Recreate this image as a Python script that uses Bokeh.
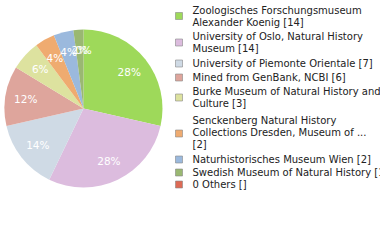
import math
from bokeh.plotting import figure
from bokeh.models import Range1d, ColumnDataSource
from bokeh.core.properties import value
from bokeh.embed import file_html
from bokeh.resources import INLINE

names = ["Zoologisches Forschungsmuseum Alexander Koenig",
         "University of Oslo, Natural History Museum",
         "University of Piemonte Orientale",
         "Mined from GenBank, NCBI",
         "Burke Museum of Natural History and Culture",
         "Senckenberg Natural History Collections Dresden, Museum of ...",
         "Naturhistorisches Museum Wien",
         "Swedish Museum of Natural History",
         "0 Others"]
counts = [14, 14, 7, 6, 3, 2, 2, 1, 0]
legend_lines = [
    ["Zoologisches Forschungsmuseum", "Alexander Koenig [14]"],
    ["University of Oslo, Natural History", "Museum [14]"],
    ["University of Piemonte Orientale [7]"],
    ["Mined from GenBank, NCBI [6]"],
    ["Burke Museum of Natural History and", "Culture [3]"],
    ["Senckenberg Natural History", "Collections Dresden, Museum of ...", "[2]"],
    ["Naturhistorisches Museum Wien [2]"],
    ["Swedish Museum of Natural History [1]"],
    ["0 Others []"],
]
colors = ["#9ed95a", "#dcbcde", "#cfdae5", "#dea59c", "#dde29f",
          "#efab70", "#9bb9dd", "#9ab872", "#dd6a55"]

W, H = 380, 240
p = figure(width=W, height=H, output_backend="svg", toolbar_location=None,
           x_range=Range1d(0, W), y_range=Range1d(0, H), min_border=0)
p.axis.visible = False
p.grid.visible = False
p.outline_line_color = None
p.background_fill_color = "white"
p.border_fill_color = "white"

cx, cy, R = 83, H - 108, 79
total = sum(counts)
cum = 0.0
starts, ends, wcols, lx, ly, labels = [], [], [], [], [], []
for c, col in zip(counts, colors):
    a0 = cum / total
    cum += c
    a1 = cum / total
    if c > 0:
        starts.append(math.pi / 2 - a0 * 2 * math.pi)
        ends.append(math.pi / 2 - a1 * 2 * math.pi)
        wcols.append(col)
    mid = (a0 + a1) / 2 * 2 * math.pi
    lx.append(cx + 0.74 * R * math.sin(mid))
    ly.append(cy + 0.74 * R * math.cos(mid))
    labels.append("%d%%" % math.floor(100 * c / total))

src = ColumnDataSource(dict(s=starts, e=ends, color=wcols))
p.wedge(x=cx, y=cy, radius=R, start_angle="s", end_angle="e",
        direction="clock", fill_color="color", line_color=None, source=src)
p.text(x=lx, y=ly, text=labels, text_color="white", text_font=value("DejaVu Sans"),
       text_font_size="10.5px", text_align="center", text_baseline="middle")

# legend
sq_x, tx = 178.5, 192
item_tops = [9.5, 36, 63, 77, 91, 120, 159, 172, 184]
sq_y, txs, tys, txt = [], [], [], []
for top, lines in zip(item_tops, legend_lines):
    n = len(lines)
    for i, ln in enumerate(lines):
        txs.append(tx)
        tys.append(H - (top + 12 * i))
        txt.append(ln)
    sq_y.append(H - (top + 6 * (n - 1) + (1 if n == 3 else 0)))
p.rect(x=[sq_x] * len(sq_y), y=sq_y, width=7, height=7, fill_color=colors,
       line_color="#888888", line_width=0.6)
p.text(x=txs, y=tys, text=txt, text_color="#222222", text_font=value("DejaVu Sans"),
       text_font_size="10px", text_align="left", text_baseline="middle")

open("out.html", "w").write(file_html(p, INLINE))
